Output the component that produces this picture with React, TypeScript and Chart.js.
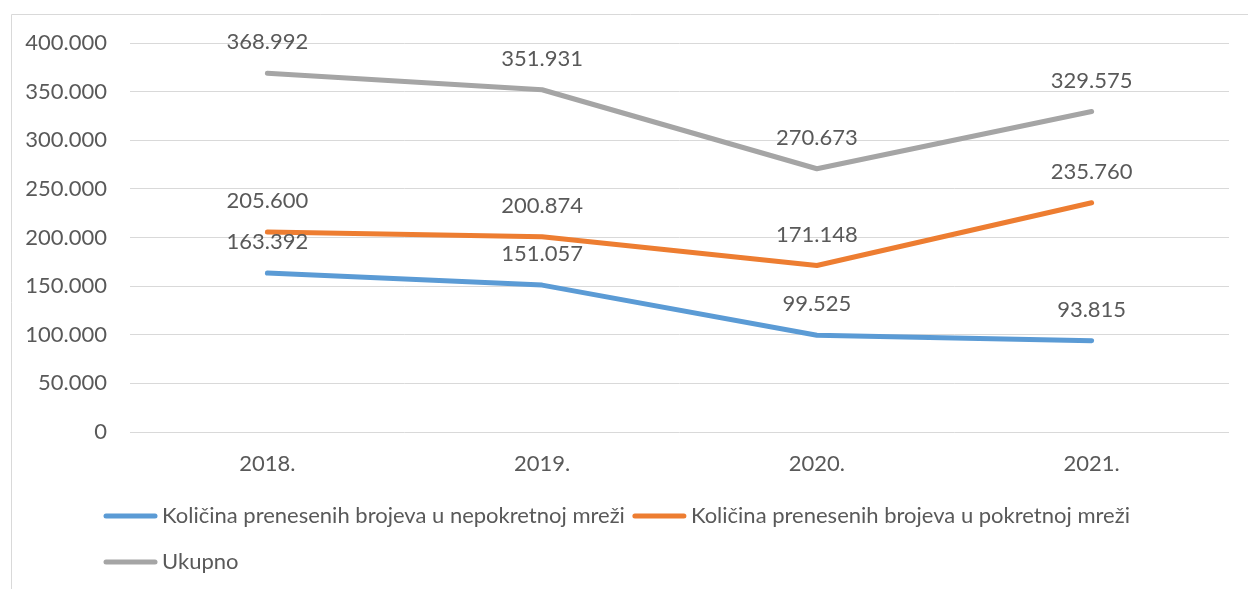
import React, { useEffect, useRef } from "react";
import { Chart, registerables } from "chart.js";

Chart.register(...registerables);

const categories = ["2018.", "2019.", "2020.", "2021."];
const fixedNetwork = [163392, 151057, 99525, 93815];
const mobileNetwork = [205600, 200874, 171148, 235760];
const totalPorted = [368992, 351931, 270673, 329575];
const seriesNames = [
  "Količina prenesenih brojeva u nepokretnoj mreži",
  "Količina prenesenih brojeva u pokretnoj mreži",
  "Ukupno",
];
const seriesColors = ["#5B9BD5", "#ED7D31", "#A5A5A5"];
const yMin = 0;
const yMax = 400000;
const yStep = 50000;

const FONT_FAMILY = "Lato, 'Open Sans', sans-serif";
const FONT_SIZE = 22;
const TEXT_COLOR = "#595959";

const fmt = (v: number) =>
  v === 0 ? "0" : Math.round(v).toString().replace(/\B(?=(\d{3})+(?!\d))/g, ".");

const decorPlugin = {
  id: "decor",
  beforeDraw(chart: any) {
    const ctx = chart.ctx;
    ctx.save();
    ctx.strokeStyle = "#D9D9D9";
    ctx.lineWidth = 1;
    ctx.beginPath();
    ctx.moveTo(11.5, chart.height + 2);
    ctx.lineTo(11.5, 14.5);
    ctx.lineTo(chart.width + 2, 14.5);
    ctx.stroke();
    ctx.restore();
  },
  afterDatasetsDraw(chart: any) {
    const ctx = chart.ctx;
    ctx.save();
    ctx.font = `${FONT_SIZE}px ${FONT_FAMILY}`;
    ctx.fillStyle = TEXT_COLOR;
    ctx.textAlign = "center";
    ctx.textBaseline = "middle";
    chart.data.datasets.forEach((ds: any, i: number) => {
      const meta = chart.getDatasetMeta(i);
      meta.data.forEach((pt: any, j: number) => {
        ctx.fillText(fmt(ds.data[j]), pt.x, pt.y - 31);
      });
    });
    ctx.restore();
  },
  afterDraw(chart: any) {
    const ctx = chart.ctx;
    ctx.save();
    ctx.font = `${FONT_SIZE}px ${FONT_FAMILY}`;
    ctx.textBaseline = "middle";
    ctx.textAlign = "left";
    const startX = 104;
    const lineLen = 53;
    const gap = 5;
    const itemGap = 8;
    const rowY = [516, 562];
    const maxRight = 1200;
    let x = startX;
    let row = 0;
    chart.data.datasets.forEach((ds: any) => {
      const w = lineLen + gap + ctx.measureText(ds.label).width;
      if (x !== startX && x + w > maxRight) {
        row += 1;
        x = startX;
      }
      const y = rowY[row] ?? rowY[rowY.length - 1] + 46 * (row - 1);
      ctx.strokeStyle = ds.borderColor;
      ctx.lineWidth = 5;
      ctx.lineCap = "round";
      ctx.beginPath();
      ctx.moveTo(x + 2, y);
      ctx.lineTo(x + lineLen - 2, y);
      ctx.stroke();
      ctx.fillStyle = TEXT_COLOR;
      ctx.fillText(ds.label, x + lineLen + gap, y);
      x += w + itemGap;
    });
    ctx.restore();
  },
};

export default function App() {
  const canvasRef = useRef<HTMLCanvasElement | null>(null);

  useEffect(() => {
    document.body.style.margin = "0";
    const canvas = canvasRef.current;
    if (!canvas) return;
    const seriesData = [fixedNetwork, mobileNetwork, totalPorted];
    const chart = new Chart(canvas, {
      type: "line",
      data: {
        labels: categories,
        datasets: seriesData.map((d, i) => ({
          label: seriesNames[i],
          data: d,
          borderColor: seriesColors[i],
          backgroundColor: seriesColors[i],
          borderWidth: 5,
          borderCapStyle: "round",
          borderJoinStyle: "round",
          pointRadius: 0,
          tension: 0,
          fill: false,
        })),
      },
      options: {
        responsive: false,
        animation: false,
        devicePixelRatio: 1,
        layout: { padding: { top: 43, right: 19, bottom: 0, left: 0 } },
        plugins: {
          legend: { display: false },
          tooltip: { enabled: false },
        },
        scales: {
          x: {
            offset: true,
            grid: { display: false, drawTicks: false },
            border: { display: false },
            ticks: {
              color: TEXT_COLOR,
              font: { family: FONT_FAMILY, size: FONT_SIZE },
              padding: 19,
              maxRotation: 0,
            },
            afterFit: (scale: any) => {
              scale.height = 157;
            },
          },
          y: {
            min: yMin,
            max: yMax,
            grid: { color: "#D9D9D9", lineWidth: 1, drawTicks: false },
            border: { display: false },
            ticks: {
              stepSize: yStep,
              color: TEXT_COLOR,
              font: { family: FONT_FAMILY, size: FONT_SIZE },
              padding: 23,
              callback: (v: any) => fmt(Number(v)),
            },
            afterFit: (scale: any) => {
              scale.width = 130;
            },
          },
        },
      },
      plugins: [decorPlugin],
    } as any);
    return () => chart.destroy();
  }, []);

  return (
    <div style={{ position: "absolute", left: 0, top: 0, width: 1248, height: 589, background: "#fff" }}>
      <canvas ref={canvasRef} width={1248} height={589} style={{ display: "block" }} />
    </div>
  );
}
